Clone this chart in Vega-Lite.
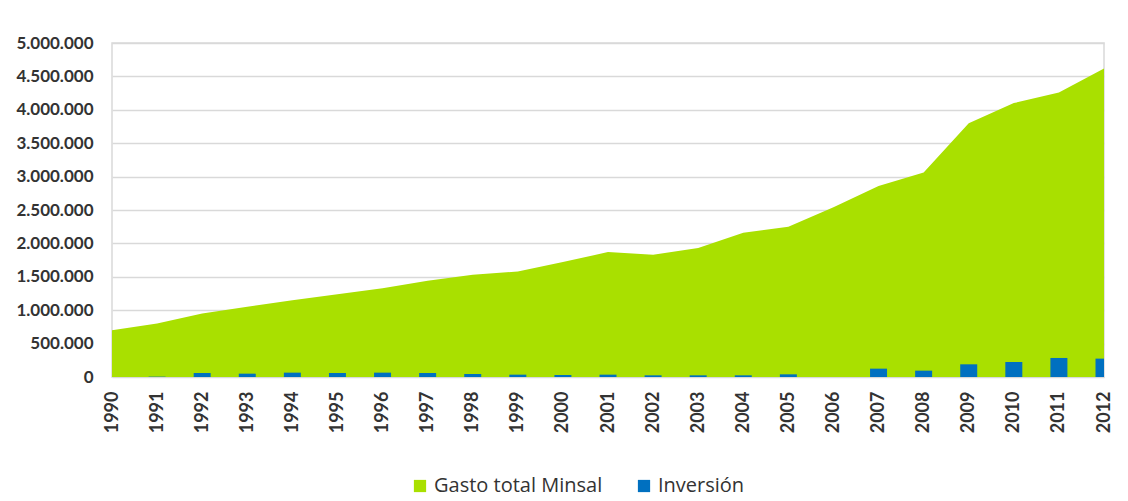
{
  "$schema": "https://vega.github.io/schema/vega-lite/v6.json",
  "width": 992,
  "height": 334,
  "autosize": {"type": "none"},
  "padding": {"left": 112, "top": 43, "right": 24, "bottom": 124},
  "background": "white",
  "config": {
    "locale": {"number": {"decimal": ",", "thousands": ".", "grouping": [3], "currency": ["$", ""]}},
    "view": {"stroke": "#d9d9d9", "strokeWidth": 1.5},
    "font": "Lato",
    "axisX": {
      "title": null,
      "values": [1990, 1991, 1992, 1993, 1994, 1995, 1996, 1997, 1998, 1999, 2000, 2001, 2002, 2003, 2004, 2005, 2006, 2007, 2008, 2009, 2010, 2011, 2012],
      "format": "d",
      "labelAngle": 270,
      "labelAlign": "right",
      "labelBaseline": "middle",
      "labelFontSize": 18,
      "labelFontWeight": "bold",
      "labelColor": "#333333",
      "labelPadding": 14,
      "grid": false,
      "ticks": false,
      "domain": false,
      "labelOverlap": false,
      "labelFlush": false
    },
    "axisY": {
      "title": null,
      "values": [0, 500000, 1000000, 1500000, 2000000, 2500000, 3000000, 3500000, 4000000, 4500000, 5000000],
      "format": ",d",
      "labelFontSize": 17,
      "labelFontWeight": "bold",
      "labelColor": "#333333",
      "labelPadding": 19,
      "labelOverlap": false,
      "labelFlush": false,
      "domain": false,
      "ticks": false,
      "gridColor": "#d9d9d9",
      "gridWidth": 1.5
    }
  },
  "data": {
    "values": [
      {"year": 1990, "gasto": 700000, "inversion": 0},
      {"year": 1991, "gasto": 800000, "inversion": 5000},
      {"year": 1992, "gasto": 950000, "inversion": 60000},
      {"year": 1993, "gasto": 1050000, "inversion": 50000},
      {"year": 1994, "gasto": 1150000, "inversion": 65000},
      {"year": 1995, "gasto": 1240000, "inversion": 60000},
      {"year": 1996, "gasto": 1330000, "inversion": 65000},
      {"year": 1997, "gasto": 1440000, "inversion": 60000},
      {"year": 1998, "gasto": 1530000, "inversion": 45000},
      {"year": 1999, "gasto": 1580000, "inversion": 35000},
      {"year": 2000, "gasto": 1720000, "inversion": 30000},
      {"year": 2001, "gasto": 1870000, "inversion": 35000},
      {"year": 2002, "gasto": 1830000, "inversion": 25000},
      {"year": 2003, "gasto": 1930000, "inversion": 25000},
      {"year": 2004, "gasto": 2160000, "inversion": 25000},
      {"year": 2005, "gasto": 2250000, "inversion": 40000},
      {"year": 2006, "gasto": 2540000, "inversion": 0},
      {"year": 2007, "gasto": 2860000, "inversion": 125000},
      {"year": 2008, "gasto": 3060000, "inversion": 95000},
      {"year": 2009, "gasto": 3800000, "inversion": 190000},
      {"year": 2010, "gasto": 4100000, "inversion": 225000},
      {"year": 2011, "gasto": 4260000, "inversion": 285000},
      {"year": 2012, "gasto": 4620000, "inversion": 275000}
    ]
  },
  "layer": [
    {
      "mark": {"type": "area", "opacity": 1},
      "encoding": {
        "x": {
          "field": "year",
          "type": "quantitative",
          "scale": {"domain": [1990, 2012], "nice": false, "zero": false, "padding": 0}
        },
        "y": {
          "field": "gasto",
          "type": "quantitative",
          "scale": {"domain": [0, 5000000], "nice": false}
        },
        "color": {
          "datum": "Gasto total Minsal",
          "scale": {"domain": ["Gasto total Minsal", "Inversión"], "range": ["#A9E000", "#0070C0"]},
          "legend": {
            "title": null,
            "orient": "none",
            "legendX": 298,
            "legendY": 433,
            "direction": "horizontal",
            "symbolType": "square",
            "symbolSize": 150,
            "symbolStrokeWidth": 0,
            "symbolOpacity": 1,
            "labelFont": "Open Sans",
            "labelFontSize": 20,
            "labelLimit": 400,
            "labelColor": "#333333",
            "labelOffset": 4,
            "columnPadding": 31
          }
        }
      }
    },
    {
      "mark": {"type": "bar", "size": 17, "clip": true},
      "encoding": {
        "x": {"field": "year", "type": "quantitative"},
        "y": {"field": "inversion", "type": "quantitative"},
        "color": {"datum": "Inversión"}
      }
    }
  ]
}
